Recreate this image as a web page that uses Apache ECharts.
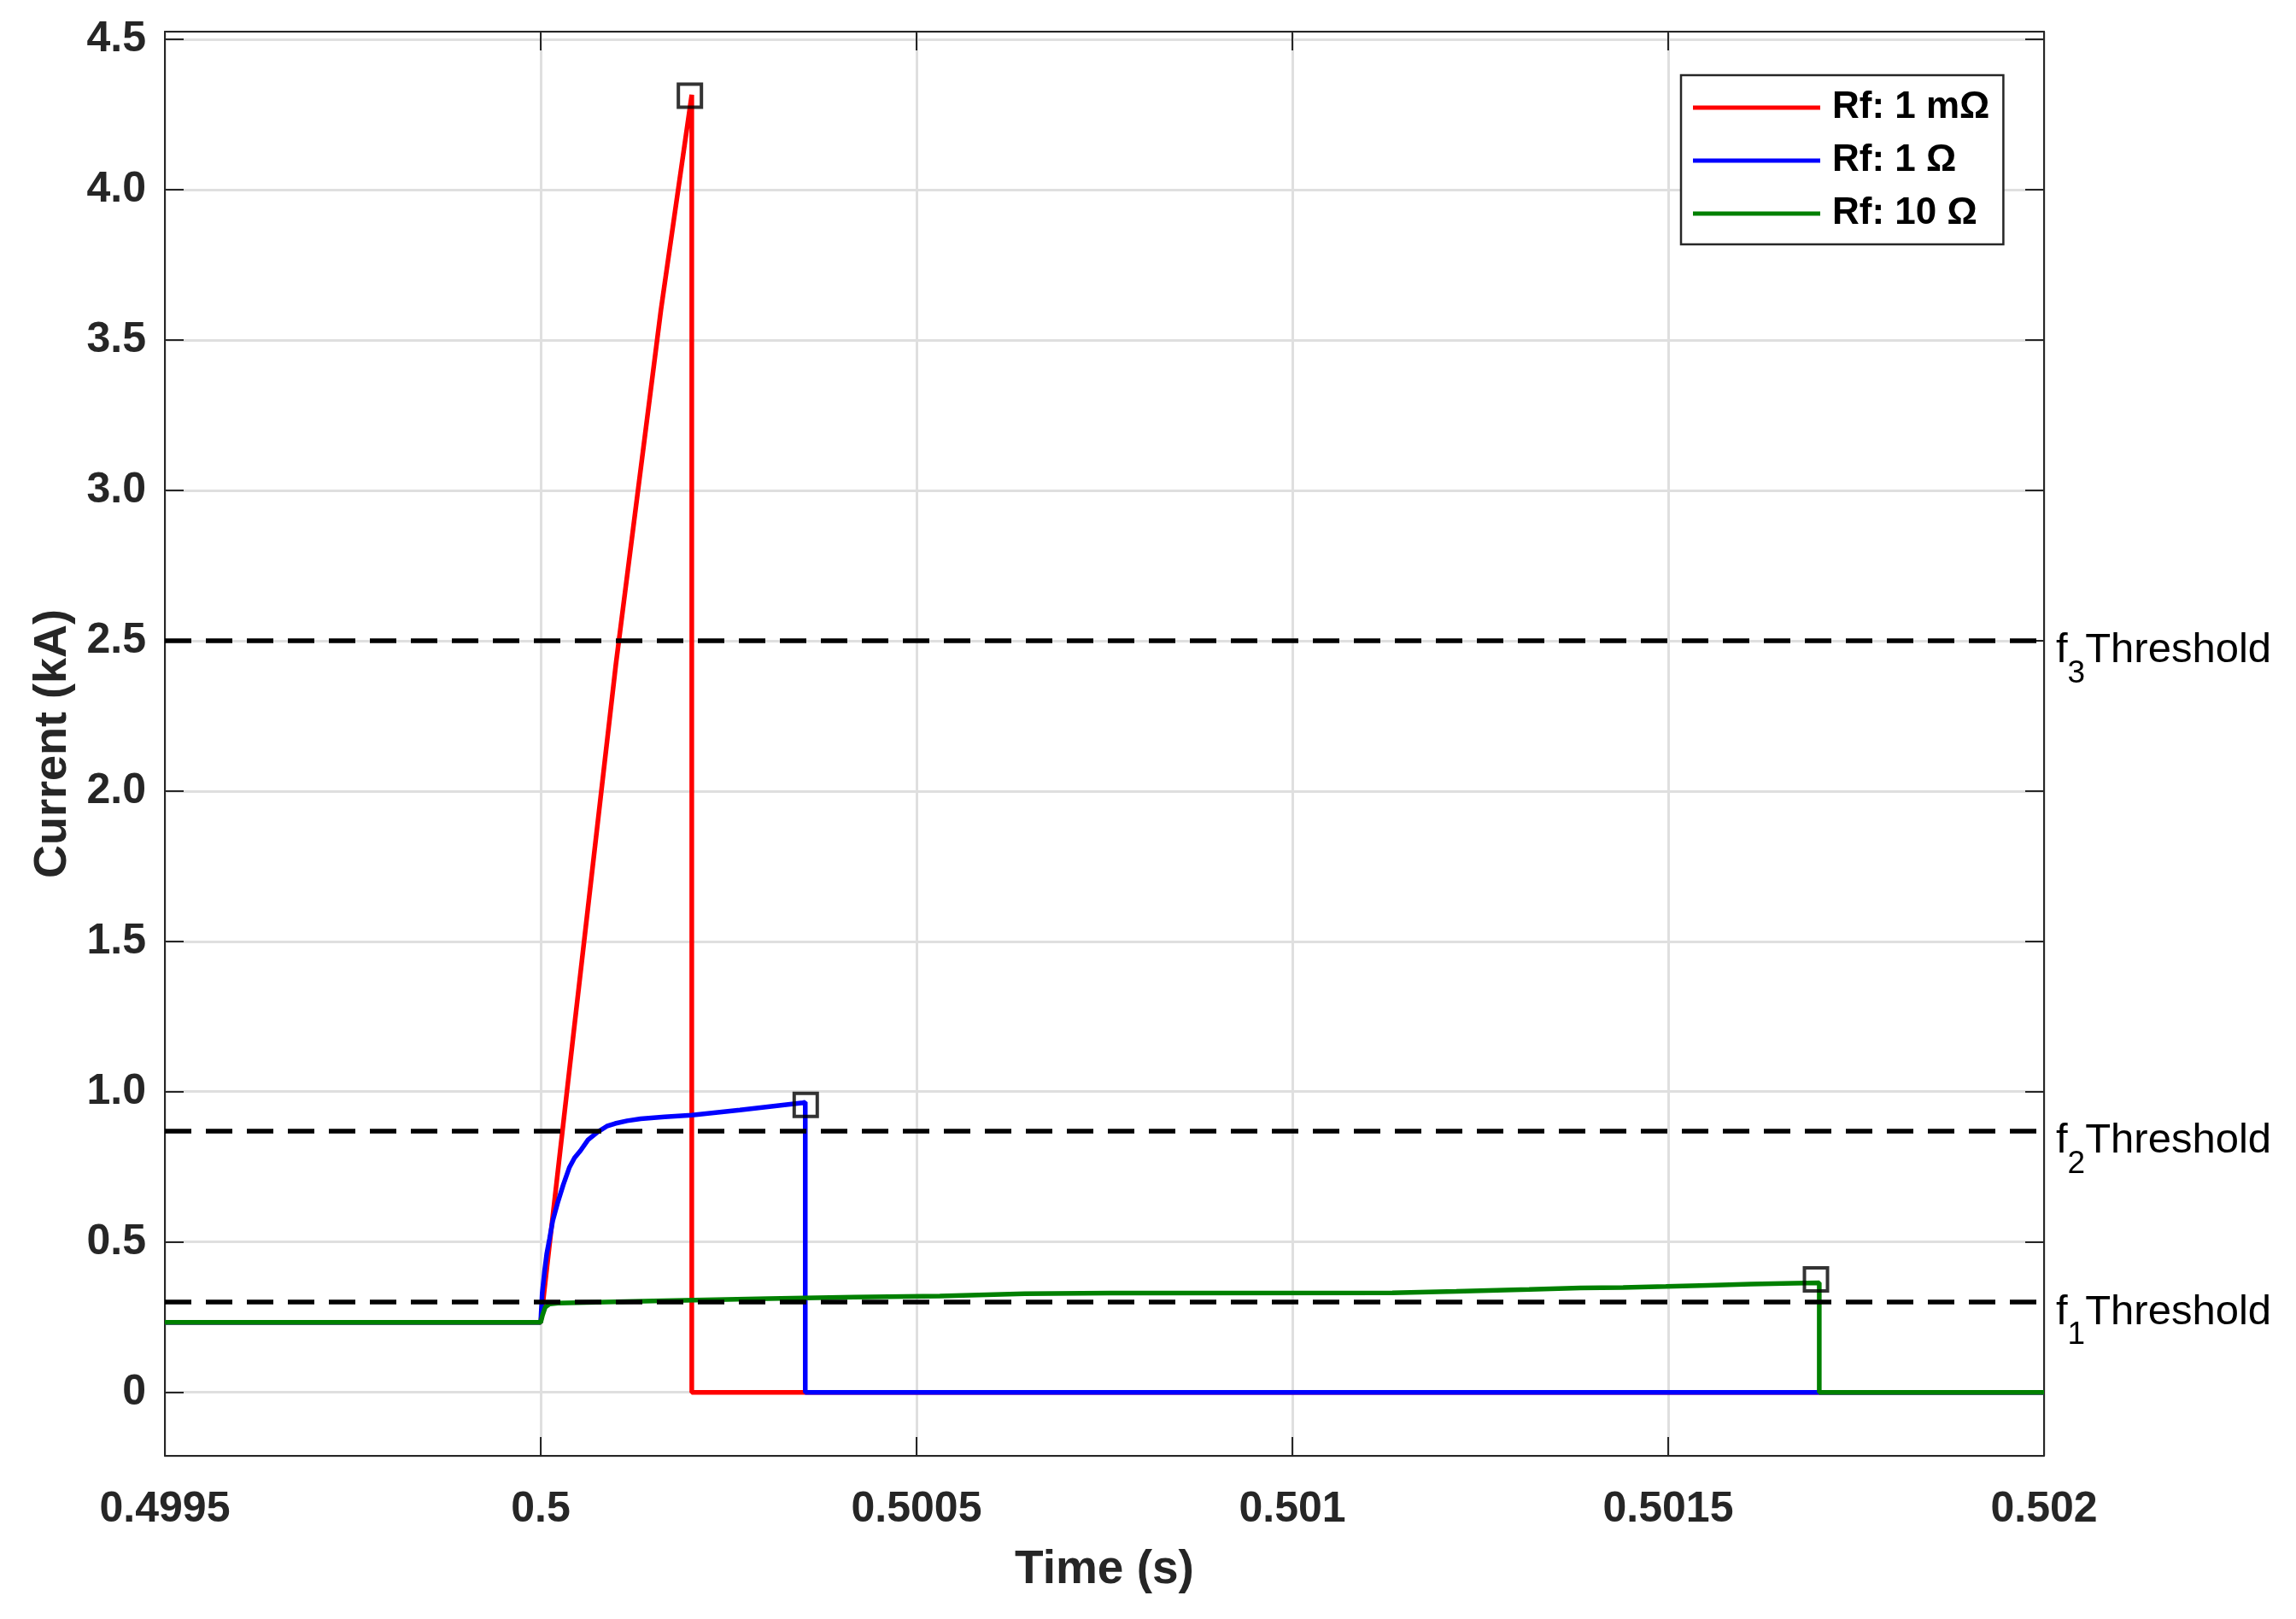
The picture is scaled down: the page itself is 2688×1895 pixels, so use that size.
<!DOCTYPE html>
<html>
<head>
<meta charset="utf-8">
<script src="https://cdn.jsdelivr.net/npm/echarts@6/dist/echarts.min.js"></script>
<style>
  html, body { margin: 0; padding: 0; background: #fff; }
  #chart { width: 2688px; height: 1895px; }
</style>
</head>
<body>
<div id="chart"></div>
<script>
// time in s, current in kA
const seriesNames = ['Rf: 1 mΩ', 'Rf: 1 Ω', 'Rf: 10 Ω']
const seriesColors = ['#ff0000', '#0000ff', '#008000']

const redTime = [0.4995, 0.5, 0.500044, 0.5001, 0.50016, 0.500201, 0.500201, 0.502]
const redValue = [0.233, 0.233, 1.2, 2.42, 3.6, 4.315, 0, 0]

const blueTime = [0.4995, 0.5, 0.500002, 0.500005, 0.500008, 0.5000117, 0.500016, 0.500023,
  0.50003, 0.500038, 0.500045, 0.500053, 0.500063, 0.500076, 0.500088, 0.500099,
  0.500115, 0.500133, 0.500165, 0.500201, 0.500265, 0.500349, 0.500352, 0.500352, 0.502]
const blueValue = [0.233, 0.233, 0.33, 0.4, 0.46, 0.51, 0.57, 0.634,
  0.69, 0.747, 0.78, 0.804, 0.84, 0.866, 0.885, 0.894,
  0.903, 0.91, 0.916, 0.922, 0.939, 0.963, 0.965, 0, 0]

const greenTime = [0.4995, 0.5, 0.5000023, 0.500006, 0.5000117, 0.500023, 0.50015, 0.5003034,
  0.500417, 0.500531, 0.500644, 0.500758, 0.501133, 0.501218, 0.501315, 0.501383,
  0.50144, 0.501497, 0.501553, 0.50161, 0.501667, 0.501701, 0.501701, 0.502]
const greenValue = [0.233, 0.233, 0.255, 0.283, 0.294, 0.297, 0.304, 0.312,
  0.317, 0.32, 0.328, 0.33, 0.331, 0.336, 0.342, 0.347,
  0.349, 0.352, 0.356, 0.36, 0.363, 0.364, 0, 0]

// square markers at the trip points
const markerTime = [0.5001985, 0.5003526, 0.5016966]
const markerValue = [4.312, 0.956, 0.376]

// protection thresholds
const thresholdValue = [0.3, 0.866, 2.5]
const thresholdIndex = ['1', '2', '3']

const xTicks = [0.4995, 0.5, 0.5005, 0.501, 0.5015, 0.502]

const font = '"Liberation Sans", Arial, Helvetica, sans-serif'
const axisColor = '#262626'

function pairs(t, v) {
  return t.map((x, i) => [x, v[i]])
}

const tickStyle = {
  show: true,
  inside: true,
  length: 22,
  lineStyle: { color: axisColor, width: 2 },
}

const option = {
  backgroundColor: '#ffffff',
  animation: false,
  grid: {
    left: 193,
    right: 295,
    top: 37,
    bottom: 191,
    outerBoundsMode: 'none',
  },
  legend: {
    data: seriesNames,
    orient: 'vertical',
    left: 1968,
    top: 88,
    icon: 'rect',
    itemWidth: 149,
    itemHeight: 5,
    itemGap: 18,
    padding: [16, 16, 14, 14],
    backgroundColor: '#ffffff',
    borderColor: axisColor,
    borderWidth: 2.5,
    textStyle: {
      fontFamily: font,
      fontWeight: 'bold',
      fontSize: 44,
      color: '#000',
      padding: [0, 0, 0, 9],
    },
  },
  xAxis: [
    {
      type: 'value',
      min: xTicks[0],
      max: xTicks[xTicks.length - 1],
      interval: 0.0005,
      name: 'Time (s)',
      nameLocation: 'middle',
      nameGap: 106,
      nameTextStyle: { fontFamily: font, fontWeight: 'bold', fontSize: 55, color: axisColor },
      axisLine: { onZero: false, lineStyle: { color: axisColor, width: 2 } },
      axisTick: tickStyle,
      axisLabel: {
        margin: 38,
        fontFamily: font,
        fontWeight: 'bold',
        fontSize: 50,
        color: axisColor,
        formatter: (v) => String(+v.toFixed(4)),
      },
      splitLine: { show: true, lineStyle: { color: '#dfdfdf', width: 3 } },
    },
    {
      type: 'value',
      position: 'top',
      min: xTicks[0],
      max: xTicks[xTicks.length - 1],
      interval: 0.0005,
      axisLine: { onZero: false, lineStyle: { color: axisColor, width: 2 } },
      axisTick: tickStyle,
      axisLabel: { show: false },
      splitLine: { show: false },
    },
  ],
  yAxis: [
    {
      type: 'value',
      min: -0.211,
      max: 4.525,
      splitNumber: 9,
      minInterval: 0.5,
      maxInterval: 0.5,
      name: 'Current (kA)',
      nameLocation: 'middle',
      nameGap: 104,
      nameTextStyle: { fontFamily: font, fontWeight: 'bold', fontSize: 54, color: axisColor },
      axisLine: { onZero: false, lineStyle: { color: axisColor, width: 2 } },
      axisTick: tickStyle,
      axisLabel: {
        margin: 22,
        padding: [12, 0, 0, 0],
        fontFamily: font,
        fontWeight: 'bold',
        fontSize: 50,
        color: axisColor,
        formatter: (v) => {
          const k = v / 0.5
          if (Math.abs(k - Math.round(k)) > 1e-6) return ''
          return Math.abs(v) < 1e-9 ? '0' : v.toFixed(1)
        },
      },
      splitLine: { show: true, lineStyle: { color: '#dfdfdf', width: 3 } },
    },
    {
      type: 'value',
      position: 'right',
      min: -0.211,
      max: 4.525,
      splitNumber: 9,
      minInterval: 0.5,
      maxInterval: 0.5,
      axisLine: { onZero: false, lineStyle: { color: axisColor, width: 2 } },
      axisTick: tickStyle,
      axisLabel: { show: false },
      splitLine: { show: false },
    },
  ],
  series: [
    {
      name: seriesNames[0],
      type: 'line',
      color: seriesColors[0],
      showSymbol: false,
      lineStyle: { width: 5.5, color: seriesColors[0] },
      data: pairs(redTime, redValue),
      z: 2,
    },
    {
      name: seriesNames[1],
      type: 'line',
      color: seriesColors[1],
      showSymbol: false,
      lineStyle: { width: 5.5, color: seriesColors[1] },
      data: pairs(blueTime, blueValue),
      z: 2,
    },
    {
      name: seriesNames[2],
      type: 'line',
      color: seriesColors[2],
      showSymbol: false,
      lineStyle: { width: 5.5, color: seriesColors[2] },
      data: pairs(greenTime, greenValue),
      z: 2,
    },
    {
      // dashed threshold lines with the f_n labels on the right
      type: 'line',
      data: [],
      z: 3,
      markLine: {
        silent: true,
        symbol: ['none', 'none'],
        lineStyle: { type: [31, 17], color: '#000', width: 5.5 },
        label: {
          show: true,
          position: 'end',
          distance: 14,
          offset: [0, 12],
          formatter: (p) => '{m|f}{s|' + thresholdIndex[p.dataIndex] + '}{m|Threshold}',
          rich: {
            m: { fontFamily: font, fontSize: 49, color: '#000', verticalAlign: 'top', lineHeight: 49 },
            s: { fontFamily: font, fontSize: 37, color: '#000', verticalAlign: 'top', lineHeight: 37, padding: [33, 0, 0, 0] },
          },
        },
        data: thresholdValue.map((v) => ({ yAxis: v })),
      },
    },
    {
      type: 'scatter',
      symbol: 'rect',
      symbolSize: 27,
      itemStyle: { color: 'rgba(0,0,0,0)', borderColor: '#000', borderWidth: 4 },
      data: pairs(markerTime, markerValue),
      z: 4,
    },
  ],
}

const myChart = echarts.init(document.getElementById('chart'), null, { renderer: 'canvas' })
myChart.setOption(option)
</script>
</body>
</html>
